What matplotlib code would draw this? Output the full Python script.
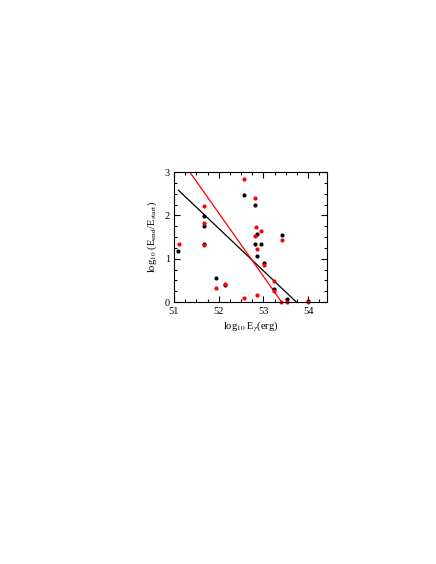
import numpy as np
import matplotlib
matplotlib.use("Agg")
import matplotlib.pyplot as plt
from matplotlib.ticker import MultipleLocator

plt.rcParams['font.family'] = ['Liberation Serif', 'DejaVu Serif']
plt.rcParams['mathtext.fontset'] = 'stix'

# black points: log10 E_gamma vs log10(E_end/E_start)
black_x = [51.10, 51.67, 51.67, 51.67, 51.93, 52.15, 52.56, 52.80, 52.85, 52.81,
           52.94, 52.85, 53.02, 53.24, 53.41, 53.53, 54.00]
black_y = [1.17, 1.98, 1.75, 1.33, 0.56, 0.39, 2.47, 2.24, 1.56, 1.33,
           1.33, 1.06, 0.89, 0.29, 1.55, 0.08, 0.03]

# red points
red_x = [51.11, 51.67, 51.67, 51.67, 51.93, 52.15, 52.56, 52.80, 52.84, 52.81,
         52.95, 52.85, 52.56, 52.85, 53.02, 53.24, 53.24, 53.41, 53.40, 53.53, 54.00]
red_y = [1.35, 2.22, 1.83, 1.31, 0.32, 0.41, 2.85, 2.40, 1.72, 1.52,
         1.65, 1.22, 0.09, 0.17, 0.86, 0.48, 0.25, 1.42, 0.01, 0.00, 0.01]

# fitted lines (end points)
fit_x = [51.10, 54.00]
black_fit_y = [2.58, -0.26]
red_fit_y = [3.37, -0.87]

fig = plt.figure(figsize=(4.36, 5.64), dpi=100)
ax = fig.add_axes([0.399, 0.4645, 0.351, 0.2305])

ax.plot(fit_x, black_fit_y, color='black', lw=0.9)
ax.plot(fit_x, red_fit_y, color='red', lw=0.9)
ax.plot(black_x, black_y, 'o', color='black', ms=3, mew=0, clip_on=False)
ax.plot(red_x, red_y, 'o', color='red', ms=3, mew=0, clip_on=False)

ax.set_xlim(51, 54.42)
ax.set_ylim(0, 3)
ax.xaxis.set_major_locator(MultipleLocator(1))
ax.xaxis.set_minor_locator(MultipleLocator(0.25))
ax.yaxis.set_major_locator(MultipleLocator(1))
ax.yaxis.set_minor_locator(MultipleLocator(0.25))
ax.tick_params(which='both', direction='in', top=True, right=True, labelsize=7.5, width=0.8)
ax.tick_params(axis='x', pad=3.5)
ax.tick_params(axis='y', pad=3)
ax.tick_params(which='major', length=4.5)
ax.tick_params(which='minor', length=2.5)
for s in ax.spines.values():
    s.set_linewidth(0.8)

ax.set_xlabel(r'log$_{10}$ E$_{\gamma}$(erg)', fontsize=7.5, labelpad=2)
ax.set_ylabel(r'log$_{10}$ (E$_{\rm end}$/E$_{\rm start}$)', fontsize=7.5, labelpad=4)

fig.savefig("out.png", dpi=100)
